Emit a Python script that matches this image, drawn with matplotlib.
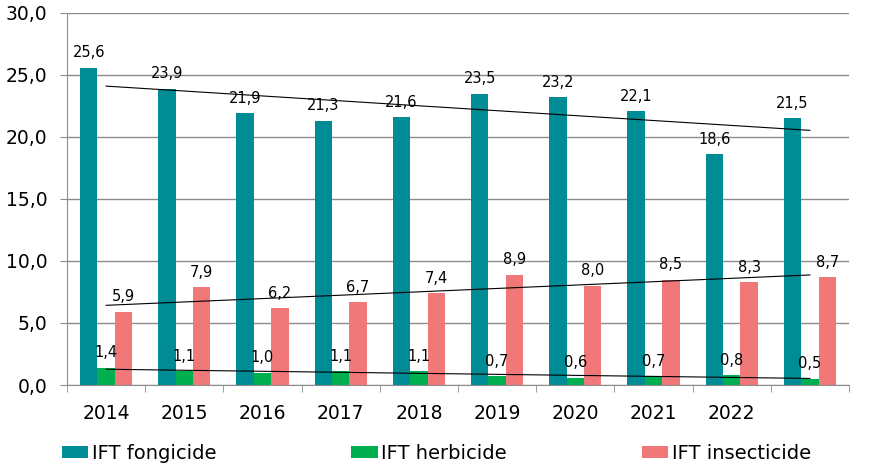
import matplotlib
matplotlib.use("Agg")
import matplotlib.pyplot as plt
import numpy as np

# data
years = ["2014", "2015", "2016", "2017", "2018", "2019", "2020", "2021", "2022", ""]
fongicide = [25.6, 23.9, 21.9, 21.3, 21.6, 23.5, 23.2, 22.1, 18.6, 21.5]
herbicide = [1.4, 1.1, 1.0, 1.1, 1.1, 0.7, 0.6, 0.7, 0.8, 0.5]
insecticide = [5.9, 7.9, 6.2, 6.7, 7.4, 8.9, 8.0, 8.5, 8.3, 8.7]

series = [
    ("IFT fongicide", fongicide, "#008C95"),
    ("IFT herbicide", herbicide, "#00B050"),
    ("IFT insecticide", insecticide, "#F07878"),
]

plt.rcParams["font.family"] = ["DejaVu Sans"]

fig = plt.figure(figsize=(8.82, 4.73), dpi=100)
ax = fig.add_axes([67 / 882, 1 - 385 / 473, (849 - 67) / 882, (385 - 13) / 473])

x = np.arange(len(years))
w = 0.222
fmt = lambda v: f"{v:.1f}".replace(".", ",")

for i, (name, vals, col) in enumerate(series):
    pos = x + (i - 1) * w
    ax.bar(pos, vals, width=w, color=col, label=name, zorder=2)
    for px, v in zip(pos, vals):
        ax.annotate(fmt(v), (px, v), xytext=(0, 7.5), textcoords="offset points",
                    ha="center", va="baseline", fontsize=10.5, zorder=4)
    # linear trend line
    a, b = np.polyfit(x, vals, 1)
    ax.plot([x[0], x[-1]], [b, a * x[-1] + b], color="black", lw=0.8, zorder=3)

ax.set_xlim(-0.5, len(years) - 0.5)
ax.set_ylim(0, 30)
ax.set_yticks(np.arange(0, 31, 5))
ax.set_yticklabels([fmt(t) for t in np.arange(0, 31, 5)], fontsize=13.5)
ax.yaxis.grid(True, color="#8c8c8c", lw=1, zorder=0)

ax.set_xticks(x)
ax.set_xticklabels(years, fontsize=13.5)
ax.set_xticks(np.arange(-0.5, len(years), 1), minor=True)
ax.tick_params(axis="x", which="major", length=0, pad=14)
ax.tick_params(axis="x", which="minor", length=5, color="#8c8c8c")
ax.tick_params(axis="y", length=5, color="#8c8c8c", pad=9)

for s in ["top", "right"]:
    ax.spines[s].set_visible(False)
ax.spines["left"].set_color("#8c8c8c")
ax.spines["bottom"].set_color("#8c8c8c")

fig.legend(loc="center", bbox_to_anchor=(0.495, 0.042), ncol=3, frameon=False,
           fontsize=14, handlelength=1.34, handleheight=0.57, handletextpad=0.2,
           columnspacing=6.95)

fig.savefig("out.png", dpi=100)
